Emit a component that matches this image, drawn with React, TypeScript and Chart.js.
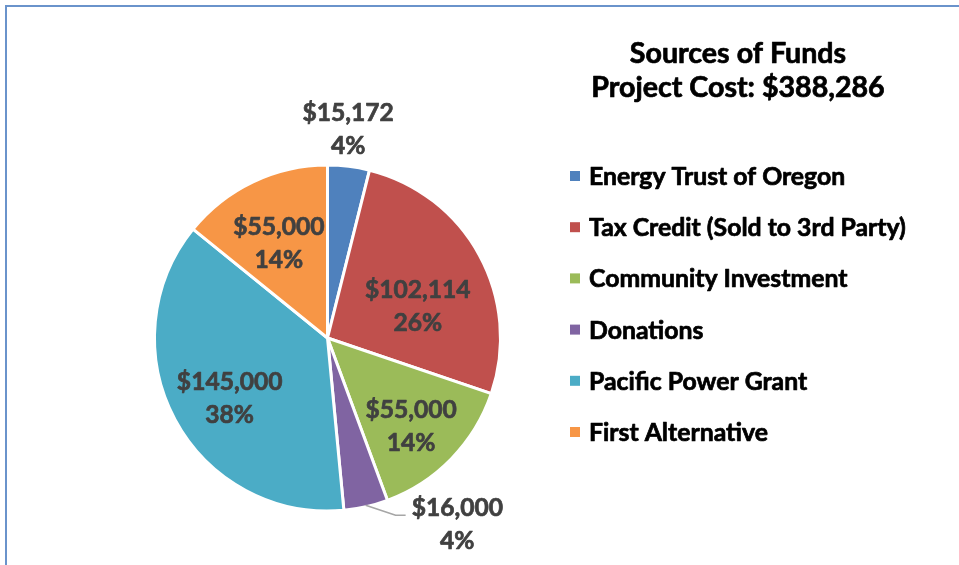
import { useEffect, useRef } from "react";
import { Chart, registerables } from "chart.js";

Chart.register(...registerables);

const CATEGORIES = [
  "Energy Trust of Oregon",
  "Tax Credit (Sold to 3rd Party)",
  "Community Investment",
  "Donations",
  "Pacific Power Grant",
  "First Alternative",
];
const AMOUNTS = [15172, 102114, 55000, 16000, 145000, 55000];
const PERCENT_LABELS = ["4%", "26%", "14%", "4%", "38%", "14%"];
const COLORS = ["#4F81BD", "#C0504D", "#9BBB59", "#8064A2", "#4BACC6", "#F79646"];
const TITLE_LINES = ["Sources of Funds", "Project Cost: $388,286"];

// label placement style: where each data label sits relative to its slice
const LABEL_MODE = ["outside", "inside", "inside", "leader", "inside", "inside"];
const LABEL_RADIUS = [1.23, 0.56, 0.705, 1, 0.667, 0.624];
const LABEL_ANGLE_SHIFT_DEG = [-1.4, 8.6, 2, 0, -3, -1.5];

const FONT = "Lato, 'Liberation Sans', sans-serif";
const LABEL_SIZE = 24.6;
const LEGEND_SIZE = 24.8;
const TITLE_SIZE = 28.6;

const fmt = (v: number) => "$" + v.toLocaleString("en-US");

const boldText = (ctx: any, t: string, x: number, y: number, w: number) => {
  ctx.lineWidth = w;
  ctx.lineJoin = "round";
  ctx.strokeStyle = ctx.fillStyle;
  ctx.strokeText(t, x, y);
  ctx.fillText(t, x, y);
};

const framePlugin = {
  id: "frame",
  beforeDraw(chart: any) {
    const ctx = chart.ctx;
    ctx.save();
    ctx.fillStyle = "#ffffff";
    ctx.fillRect(0, 0, chart.width, chart.height);
    ctx.strokeStyle = "#6A93CB";
    ctx.lineWidth = 2;
    ctx.beginPath();
    ctx.moveTo(6, chart.height + 5);
    ctx.lineTo(6, 6);
    ctx.lineTo(chart.width + 5, 6);
    ctx.stroke();
    ctx.restore();
  },
};

const overlayPlugin = {
  id: "overlay",
  afterDatasetsDraw(chart: any) {
    const ctx = chart.ctx;
    const meta = chart.getDatasetMeta(0);
    ctx.save();
    // data labels
    ctx.font = `bold ${LABEL_SIZE}px ${FONT}`;
    const cap = ctx.measureText("0").actualBoundingBoxAscent;
    const gap = 16.5;
    meta.data.forEach((arc: any, i: number) => {
      const { x, y, startAngle, endAngle, outerRadius } = arc.getProps(
        ["x", "y", "startAngle", "endAngle", "outerRadius"],
        true
      );
      const mid = (startAngle + endAngle) / 2;
      const R = outerRadius - 1.5;
      const amount = fmt(AMOUNTS[i]);
      const pct = PERCENT_LABELS[i];
      ctx.textAlign = "center";
      ctx.textBaseline = "alphabetic";
      if (LABEL_MODE[i] === "leader") {
        const ex = x + Math.cos(mid) * R;
        const ey = y + Math.sin(mid) * R;
        const bx = ex + 30;
        const by = ey + 10;
        const lx = bx + 10;
        ctx.strokeStyle = "#A6A6A6";
        ctx.lineWidth = 1.5;
        ctx.beginPath();
        ctx.moveTo(ex, ey);
        ctx.lineTo(bx, by);
        ctx.lineTo(lx, by);
        ctx.stroke();
        ctx.fillStyle = "#404040";
        const w = ctx.measureText(amount).width;
        const tcx = lx + 6 + w / 2;
        boldText(ctx, amount, tcx, by + 1, 0.7);
        boldText(ctx, pct, tcx, by + 34, 0.7);
      } else {
        ctx.fillStyle = "#404040";
        const f = LABEL_RADIUS[i];
        const a = mid + (LABEL_ANGLE_SHIFT_DEG[i] * Math.PI) / 180;
        const px = x + Math.cos(a) * R * f;
        const py = y + Math.sin(a) * R * f;
        boldText(ctx, amount, px, py - gap + cap / 2, 0.7);
        boldText(ctx, pct, px, py + gap + cap / 2, 0.7);
      }
    });

    // title
    ctx.fillStyle = "#000000";
    ctx.textAlign = "center";
    ctx.font = `bold ${TITLE_SIZE}px ${FONT}`;
    const tcap = ctx.measureText("S").actualBoundingBoxAscent;
    const titleX = 738;
    const titleY = [52, 86.5];
    TITLE_LINES.forEach((t, i) => boldText(ctx, t, titleX, titleY[i] + tcap / 2, 0.7));

    // legend
    ctx.font = `bold ${LEGEND_SIZE}px ${FONT}`;
    ctx.textAlign = "left";
    const lcap = ctx.measureText("E").actualBoundingBoxAscent;
    const legTop = 176;
    const legStep = 51.2;
    CATEGORIES.forEach((c, i) => {
      const cy = legTop + i * legStep;
      ctx.fillStyle = COLORS[i];
      ctx.fillRect(570, cy - 5, 10, 10);
      ctx.fillStyle = "#000000";
      boldText(ctx, c, 589, cy + lcap / 2, 0.7);
    });
    ctx.restore();
  },
};

export default function App() {
  const ref = useRef<HTMLCanvasElement>(null);
  useEffect(() => {
    if (!ref.current) return;
    const chart = new Chart(ref.current, {
      type: "pie",
      data: {
        labels: CATEGORIES,
        datasets: [
          {
            data: AMOUNTS,
            backgroundColor: COLORS,
            borderColor: "#ffffff",
            borderWidth: 3,
            hoverOffset: 0,
            offset: 0,
            radius: 173,
          } as any,
        ],
      },
      options: {
        responsive: false,
        animation: false,
        events: [],
        layout: { padding: { left: 100, right: 404, top: 140, bottom: 29 } },
        plugins: {
          legend: { display: false },
          title: { display: false },
          tooltip: { enabled: false },
        },
      },
      plugins: [framePlugin, overlayPlugin],
    });
    return () => chart.destroy();
  }, []);
  return (
    <div style={{ position: "fixed", left: 0, top: 0, width: 959, height: 565, background: "#fff" }}>
      <canvas ref={ref} width={959} height={565} style={{ display: "block" }} />
    </div>
  );
}
